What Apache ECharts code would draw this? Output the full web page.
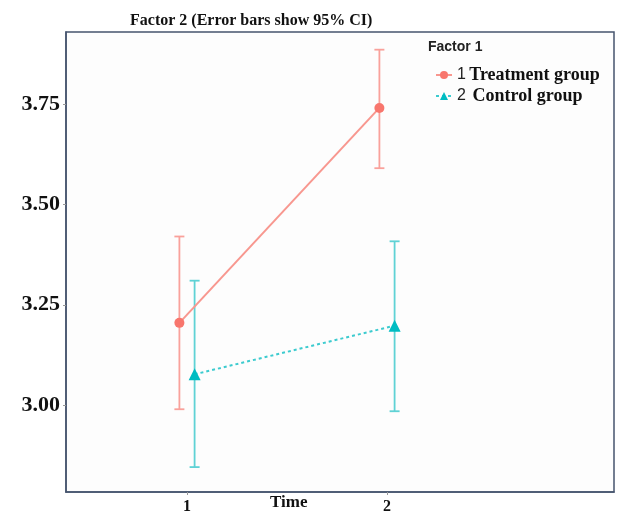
<!DOCTYPE html>
<html lang="en">
<head>
    <meta charset="utf-8">
    <title>Factor 2</title>
    <script src="https://cdn.jsdelivr.net/npm/echarts@6.0.0/dist/echarts.min.js"></script>
    <style>
        html, body {margin: 0; padding: 0; background: #fff;}
        #main {width: 621px; height: 519px;}
    </style>
</head>
<body>
<div id="main"></div>
<script type="text/javascript">
    // data
    var times = [1, 2];
    var treatMean = [3.205, 3.74];
    var treatLow = [2.99, 3.59];
    var treatHigh = [3.42, 3.885];
    var ctrlMean = [3.077, 3.198];
    var ctrlLow = [2.846, 2.985];
    var ctrlHigh = [3.31, 3.408];
    var yTicks = [3.00, 3.25, 3.50, 3.75];

    // small horizontal dodge so the groups don't overlap
    var dodge = 0.038;

    function pts(means, shift) {
        return times.map(function (t, i) { return [t + shift, means[i]]; });
    }
    function bars(lows, highs, shift) {
        return times.map(function (t, i) { return [t + shift, lows[i], highs[i]]; });
    }

    function errorBar(color) {
        return function (params, api) {
            var lo = api.coord([api.value(0), api.value(1)]);
            var hi = api.coord([api.value(0), api.value(2)]);
            var w = 5;
            var st = {stroke: color, lineWidth: 1.8};
            return {
                type: 'group',
                children: [
                    {type: 'line', shape: {x1: lo[0], y1: lo[1], x2: hi[0], y2: hi[1]}, style: st},
                    {type: 'line', shape: {x1: lo[0] - w, y1: lo[1], x2: lo[0] + w, y2: lo[1]}, style: st},
                    {type: 'line', shape: {x1: hi[0] - w, y1: hi[1], x2: hi[0] + w, y2: hi[1]}, style: st}
                ]
            };
        };
    }

    var serif = '"Liberation Serif", "Times New Roman", serif';
    var sans = '"Liberation Sans", Arial, sans-serif';

    var myChart = echarts.init(document.getElementById('main'));
    var option = {
        animation: false,
        backgroundColor: '#fff',
        title: {
            text: 'Factor 2 (Error bars show 95% CI)',
            left: 125,
            top: 8,
            textStyle: {fontFamily: serif, fontWeight: 'bold', fontSize: 16, color: '#111'}
        },
        grid: {
            left: 66, right: 7, top: 32, bottom: 27,
            show: true, borderColor: '#46546e', borderWidth: 1.5, backgroundColor: '#fdfdfd'
        },
        legend: {
            orient: 'vertical',
            left: 430,
            top: 61,
            itemGap: 3,
            itemWidth: 16,
            itemHeight: 10,
            data: ['Treatment group', 'Control group'],
            formatter: function (name) {
                return name === 'Treatment group' ? '{n|1} {t|Treatment group}' : '{n|2}  {t|Control group}';
            },
            textStyle: {
                rich: {
                    n: {fontFamily: sans, fontSize: 16, color: '#222'},
                    t: {fontFamily: serif, fontWeight: 'bold', fontSize: 18, color: '#111'}
                }
            }
        },
        graphic: [
            {type: 'text', left: 428, top: 40, style: {text: 'Factor 1', font: 'bold 14px ' + sans, fill: '#222'}},
            {type: 'text', left: 270, top: 494, style: {text: 'Time', font: 'bold 17px ' + serif, fill: '#111'}}
        ],
        xAxis: {
            type: 'value',
            min: 0.395,
            max: 3.135,
            axisLine: {show: true, lineStyle: {color: '#46546e', width: 1.5}},
            splitLine: {show: false},
            axisTick: {show: true, length: 3, customValues: times, lineStyle: {color: '#999'}},
            axisLabel: {
                customValues: times,
                margin: 7,
                fontFamily: serif, fontWeight: 'bold', fontSize: 16, color: '#111',
                formatter: function (v) { return String(v); }
            }
        },
        yAxis: {
            type: 'value',
            min: 2.784,
            max: 3.929,
            axisLine: {show: true, lineStyle: {color: '#46546e', width: 1.5}},
            splitLine: {show: false},
            axisTick: {show: true, length: 3, customValues: yTicks, lineStyle: {color: '#999'}},
            axisLabel: {
                customValues: yTicks,
                margin: 6,
                fontFamily: serif, fontWeight: 'bold', fontSize: 22, color: '#111',
                formatter: function (v) { return v.toFixed(2); }
            }
        },
        series: [
            {
                name: 'Treatment group error',
                type: 'custom',
                renderItem: errorBar('#f9a19b'),
                data: bars(treatLow, treatHigh, -dodge),
                z: 2
            },
            {
                name: 'Control group error',
                type: 'custom',
                renderItem: errorBar('#5fd2d5'),
                data: bars(ctrlLow, ctrlHigh, dodge),
                z: 2
            },
            {
                name: 'Treatment group',
                type: 'line',
                data: pts(treatMean, -dodge),
                symbol: 'circle',
                symbolSize: 10,
                itemStyle: {color: '#f8766d'},
                lineStyle: {color: '#f8978f', width: 2},
                z: 3
            },
            {
                name: 'Control group',
                type: 'line',
                data: pts(ctrlMean, dodge),
                symbol: 'triangle',
                symbolSize: 12,
                itemStyle: {color: '#00bcc2'},
                lineStyle: {color: '#3ccbcf', width: 2, type: [3, 3]},
                z: 3
            }
        ]
    };
    myChart.setOption(option);
</script>
</body>
</html>
